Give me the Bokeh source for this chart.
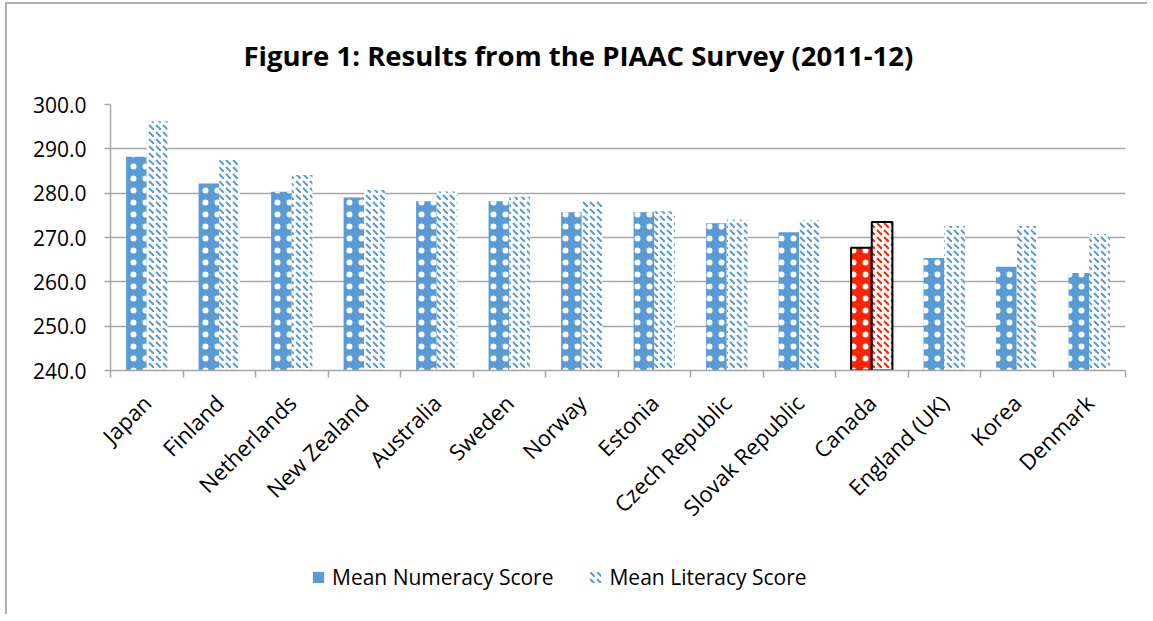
import math
from bokeh.plotting import figure
from bokeh.layouts import column
from bokeh.models import (ColumnDataSource, FixedTicker, NumeralTickFormatter, Title, Legend, LegendItem)
from bokeh.embed import file_html
from bokeh.resources import INLINE

categories = ["Japan", "Finland", "Netherlands", "New Zealand", "Australia", "Sweden", "Norway",
              "Estonia", "Czech Republic", "Slovak Republic", "Canada", "England (UK)", "Korea", "Denmark"]
numeracy = [288.2, 282.2, 280.3, 279.0, 278.2, 278.2, 275.7, 275.7, 273.2, 271.2, 267.7, 265.4, 263.4, 262.0]
literacy = [296.2, 287.5, 284.1, 280.7, 280.4, 279.2, 278.4, 275.9, 274.0, 273.9, 273.5, 272.6, 272.6, 270.8]
highlight = "Canada"
y_ticks = [240, 250, 260, 270, 280, 290, 300]
series_names = ["Mean Numeracy Score", "Mean Literacy Score"]

FONT = "Open Sans"
BLUE = "#5b9bd5"
RED = "#ff2200"
GRAY = "#a6a6a6"

NUM_STYLE = dict(fill_color=BLUE, line_color=None, hatch_pattern="dot", hatch_color="white",
                 hatch_scale=12, hatch_weight=0.5)
LIT_STYLE = dict(fill_color="white", line_color=None, hatch_pattern="left_diagonal_dash",
                 hatch_color=BLUE, hatch_scale=7, hatch_weight=2)

idx = [i + 0.5 for i in range(len(categories))]
bw = 0.285
off = 0.1425

normal = [i for i, c in enumerate(categories) if c != highlight]
hl = [i for i, c in enumerate(categories) if c == highlight]

src_n = ColumnDataSource(dict(x=[idx[i] - off for i in normal], top=[numeracy[i] for i in normal]))
src_l = ColumnDataSource(dict(x=[idx[i] + off for i in normal], top=[literacy[i] for i in normal]))
src_hn = ColumnDataSource(dict(x=[idx[i] - off for i in hl], top=[numeracy[i] for i in hl]))
src_hl = ColumnDataSource(dict(x=[idx[i] + off for i in hl], top=[literacy[i] for i in hl]))

W = 1140
H1, H2 = 545, 65
p = figure(width=W, height=H1, x_range=(0, len(categories)), y_range=(240, 300),
           output_backend="svg", toolbar_location=None,
           min_border_left=103, min_border_right=W - 1118, min_border_top=100, min_border_bottom=H1 - 366)
p.outline_line_color = None
p.background_fill_color = "white"
p.border_fill_color = "white"

p.vbar(x="x", top="top", bottom=240, width=bw, source=src_n, **NUM_STYLE)
p.vbar(x="x", top="top", bottom=240, width=bw, source=src_l, **LIT_STYLE)
p.vbar(x="x", top="top", bottom=240, width=bw, source=src_hn, fill_color=RED, line_color="black", line_width=2,
       hatch_pattern="dot", hatch_color="white", hatch_scale=12, hatch_weight=0.5)
p.vbar(x="x", top="top", bottom=240, width=bw, source=src_hl, fill_color="white", line_color="black", line_width=2,
       hatch_pattern="left_diagonal_dash", hatch_color=RED, hatch_scale=7, hatch_weight=2)

# grid
p.xgrid.grid_line_color = None
p.ygrid.ticker = FixedTicker(ticks=y_ticks)
p.ygrid.grid_line_color = GRAY
p.ygrid.grid_line_width = 1.5

# y axis
p.yaxis.ticker = FixedTicker(ticks=y_ticks)
p.yaxis.formatter = NumeralTickFormatter(format="0.0")
p.yaxis.axis_line_color = GRAY
p.yaxis.axis_line_width = 1.5
p.yaxis.major_tick_line_color = GRAY
p.yaxis.major_tick_line_width = 1.5
p.yaxis.major_tick_out = 6
p.yaxis.major_tick_in = 0
p.yaxis.minor_tick_line_color = None
p.yaxis.major_label_text_font = FONT
p.yaxis.major_label_text_font_size = "21px"
p.yaxis.major_label_text_color = "black"
p.yaxis.major_label_standoff = 18

# x axis
p.xaxis.ticker = FixedTicker(ticks=idx, minor_ticks=list(range(len(categories) + 1)))
p.xaxis.major_label_overrides = {v: c for v, c in zip(idx, categories)}
p.xaxis.major_label_orientation = math.pi / 4
p.xaxis.axis_line_color = GRAY
p.xaxis.axis_line_width = 1.5
p.xaxis.major_tick_line_color = None
p.xaxis.minor_tick_line_color = GRAY
p.xaxis.minor_tick_line_width = 1.5
p.xaxis.minor_tick_out = 7
p.xaxis.minor_tick_in = 0
p.xaxis.major_label_text_font = FONT
p.xaxis.major_label_text_font_size = "22px"
p.xaxis.major_label_text_color = "black"
p.xaxis.major_label_standoff = 21

# title
p.add_layout(Title(text="Figure 1: Results from the PIAAC Survey (2011-12)",
                   text_font=FONT, text_font_style="bold", text_font_size="27.5px",
                   align="left", offset=133, standoff=61, text_color="black"), "above")

# legend strip (its frame is aligned with the chart frame by the column layout)
p2 = figure(width=W, height=H2, x_range=(0, 1), y_range=(0, 1), output_backend="svg",
            toolbar_location=None, min_border=0, x_axis_location=None, y_axis_location=None)
p2.outline_line_color = None
p2.grid.visible = False
p2.background_fill_color = "white"
p2.border_fill_color = "white"
ln = p2.vbar(x=[5], top=[5], bottom=[4], width=0.1, fill_color=BLUE, line_color=None)
ll = p2.vbar(x=[5], top=[5], bottom=[4], width=0.1, **LIT_STYLE)
legend = Legend(items=[LegendItem(label=series_names[0], renderers=[ln]),
                       LegendItem(label=series_names[1], renderers=[ll])],
                location=(201, H2 - 28 - 14), orientation="horizontal",
                label_text_font=FONT, label_text_font_size="21px", label_text_color="black",
                glyph_width=14, glyph_height=14, label_standoff=7, spacing=35,
                padding=0, margin=0, border_line_color=None, background_fill_alpha=0)
p2.add_layout(legend, "center")

layout = column(p, p2, spacing=0)
layout.styles = {"border-left": "2px solid #b0b0b0", "border-top": "2px solid #b0b0b0",
                 "border-right": "none", "border-bottom": "none", "outline": "none",
                 "box-shadow": "none", "margin-left": "5px", "margin-top": "2px"}

open("out.html", "w").write(file_html(layout, INLINE))
